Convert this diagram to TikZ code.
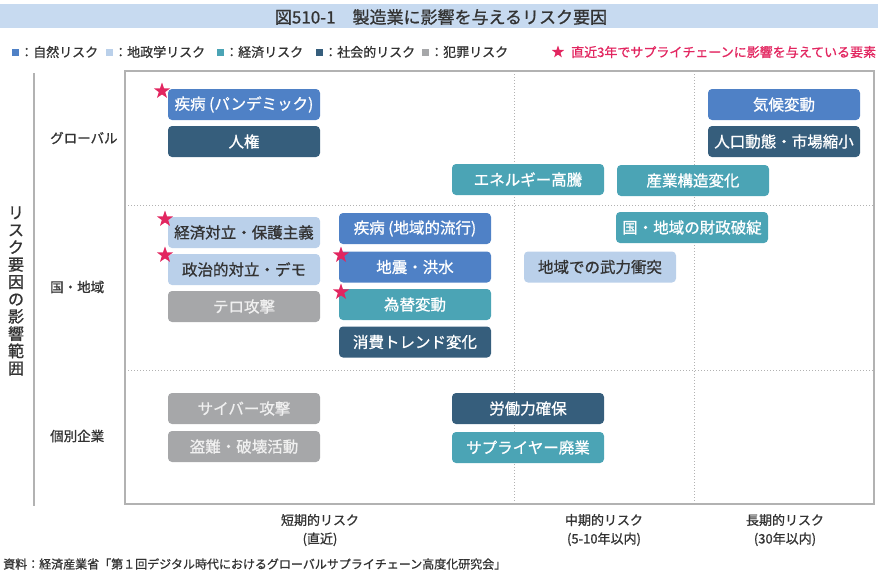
\documentclass[tikz,border=0pt]{standalone}
\usepackage{fontspec}
\setmainfont{Noto Sans CJK JP}[FakeBold=0.9]
\usetikzlibrary{shapes.geometric}
\definecolor{risknat}{RGB}{79,129,198}
\definecolor{riskgeo}{RGB}{186,208,234}
\definecolor{riskeco}{RGB}{75,164,181}
\definecolor{risksoc}{RGB}{54,94,124}
\definecolor{riskcrim}{RGB}{166,167,169}
\definecolor{riskstar}{RGB}{226,38,96}
\definecolor{titlebar}{RGB}{199,218,240}
\definecolor{textdark}{RGB}{51,51,51}
\definecolor{framegray}{RGB}{178,178,178}

\begin{document}
\begin{tikzpicture}[x=1pt,y=-1pt,
		riskbox/.style={rounded corners=4pt,minimum width=152pt,minimum height=31pt,inner sep=0pt,font=\fontsize{15.5}{16}\selectfont,text=white},
		nat/.style={riskbox,fill=risknat},
		geo/.style={riskbox,fill=riskgeo,text=textdark},
		eco/.style={riskbox,fill=riskeco},
		soc/.style={riskbox,fill=risksoc},
		crim/.style={riskbox,fill=riskcrim,text=white!94!black},
		recent/.style={star,star points=5,star point ratio=2.5,fill=riskstar,inner sep=0pt,minimum size=17pt},
		legsq/.style={inner sep=0pt,minimum size=7pt},
		legtext/.style={anchor=west,inner sep=0pt,font=\fontsize{13}{13}\selectfont,text=textdark},
		scopelabel/.style={anchor=west,inner sep=0pt,font=\fontsize{13.5}{14}\selectfont,text=textdark},
		termlabel/.style={align=center,inner sep=0pt,font=\fontsize{13}{18.5}\selectfont,text=textdark},
		gridline/.style={draw=framegray,dash pattern=on 1pt off 2pt,line width=1pt}]
		\useasboundingbox (0,0) rectangle (886,576);
		\fill[titlebar] (0,4) rectangle (878,28);
		\node[inner sep=0pt,font=\fontsize{17}{17}\selectfont,text=textdark] (title) at (441,17){図510-1　製造業に影響を与えるリスク要因};
		\node[legsq,fill=risknat] (lq1) at (15,52){};
		\node[legtext] (lt1) at (20,52){：自然リスク};
		\node[legsq,fill=riskgeo] (lq2) at (109,52){};
		\node[legtext] (lt2) at (114,52){：地政学リスク};
		\node[legsq,fill=riskeco] (lq3) at (220,52){};
		\node[legtext] (lt3) at (225,52){：経済リスク};
		\node[legsq,fill=risksoc] (lq4) at (319,52){};
		\node[legtext] (lt4) at (324,52){：社会的リスク};
		\node[legsq,fill=riskcrim] (lq5) at (425,52){};
		\node[legtext] (lt5) at (430,52){：犯罪リスク};
		\node[recent,minimum size=13pt] (lstar) at (558,52){};
		\node[legtext,text=riskstar] (ltstar) at (571,52){直近3年でサプライチェーンに影響を与えている要素};
		\draw[framegray,line width=1.5pt] (34,73) -- (34,506);
		\node[align=center,inner sep=0pt,font=\fontsize{16}{17.3}\selectfont,text=textdark] (scope) at (16,291){リ\\ス\\ク\\要\\因\\の\\影\\響\\範\\囲};
		\draw[gridline] (125,205) -- (874,205);
		\draw[gridline] (125,370) -- (874,370);
		\draw[gridline] (514,71) -- (514,504);
		\draw[gridline] (694,71) -- (694,504);
		\draw[framegray,line width=1.5pt] (125,71) rectangle (874,504);
		\node[scopelabel] (global) at (50,138){グローバル};
		\node[scopelabel] (region) at (50,287){国・地域};
		\node[scopelabel] (firm) at (50,436){個別企業};
		\node[nat] (pandemic) at (244,104.5){疾病 (パンデミック)};
		\node[soc] (rights) at (244,141.5){人権};
		\node[geo] (tradewar) at (244,232.5){経済対立・保護主義};
		\node[geo] (politics) at (244,269.5){政治的対立・デモ};
		\node[crim] (terror) at (244,306.5){テロ攻撃};
		\node[crim] (cyber) at (244,408.5){サイバー攻撃};
		\node[crim] (theft) at (244,446.5){盗難・破壊活動};
		\node[nat] (epidemic) at (415,228.5){疾病 (地域的流行)};
		\node[nat] (quake) at (415,267){地震・洪水};
		\node[eco] (fx) at (415,304.5){為替変動};
		\node[soc] (consumer) at (415,342){消費トレンド変化};
		\node[eco] (energy) at (528,179.5){エネルギー高騰};
		\node[geo] (conflict) at (600,267){地域での武力衝突};
		\node[soc] (labour) at (528,408.5){労働力確保};
		\node[eco] (supplier) at (528,447.5){サプライヤー廃業};
		\node[eco] (industry) at (693,180.5){産業構造変化};
		\node[eco] (fiscal) at (692,227.5){国・地域の財政破綻};
		\node[nat] (climate) at (784,104.5){気候変動};
		\node[soc] (population) at (784,141.5){人口動態・市場縮小};
		\node[recent] (s1) at (162,91){};
		\node[recent] (s2) at (165,219){};
		\node[recent] (s3) at (165,255){};
		\node[recent] (s4) at (341,255){};
		\node[recent] (s5) at (341,292){};
		\node[termlabel] (short) at (320,530){短期的リスク\\(直近)};
		\node[termlabel] (mid) at (604,530){中期的リスク\\(5-10年以内)};
		\node[termlabel] (long) at (785,530){長期的リスク\\(30年以内)};
		\node[anchor=west,inner sep=0pt,font=\fontsize{12}{12}\selectfont,text=textdark] (source) at (3,564){資料：経済産業省「第１回デジタル時代におけるグローバルサプライチェーン高度化研究会」};
	\end{tikzpicture}
\end{document}
